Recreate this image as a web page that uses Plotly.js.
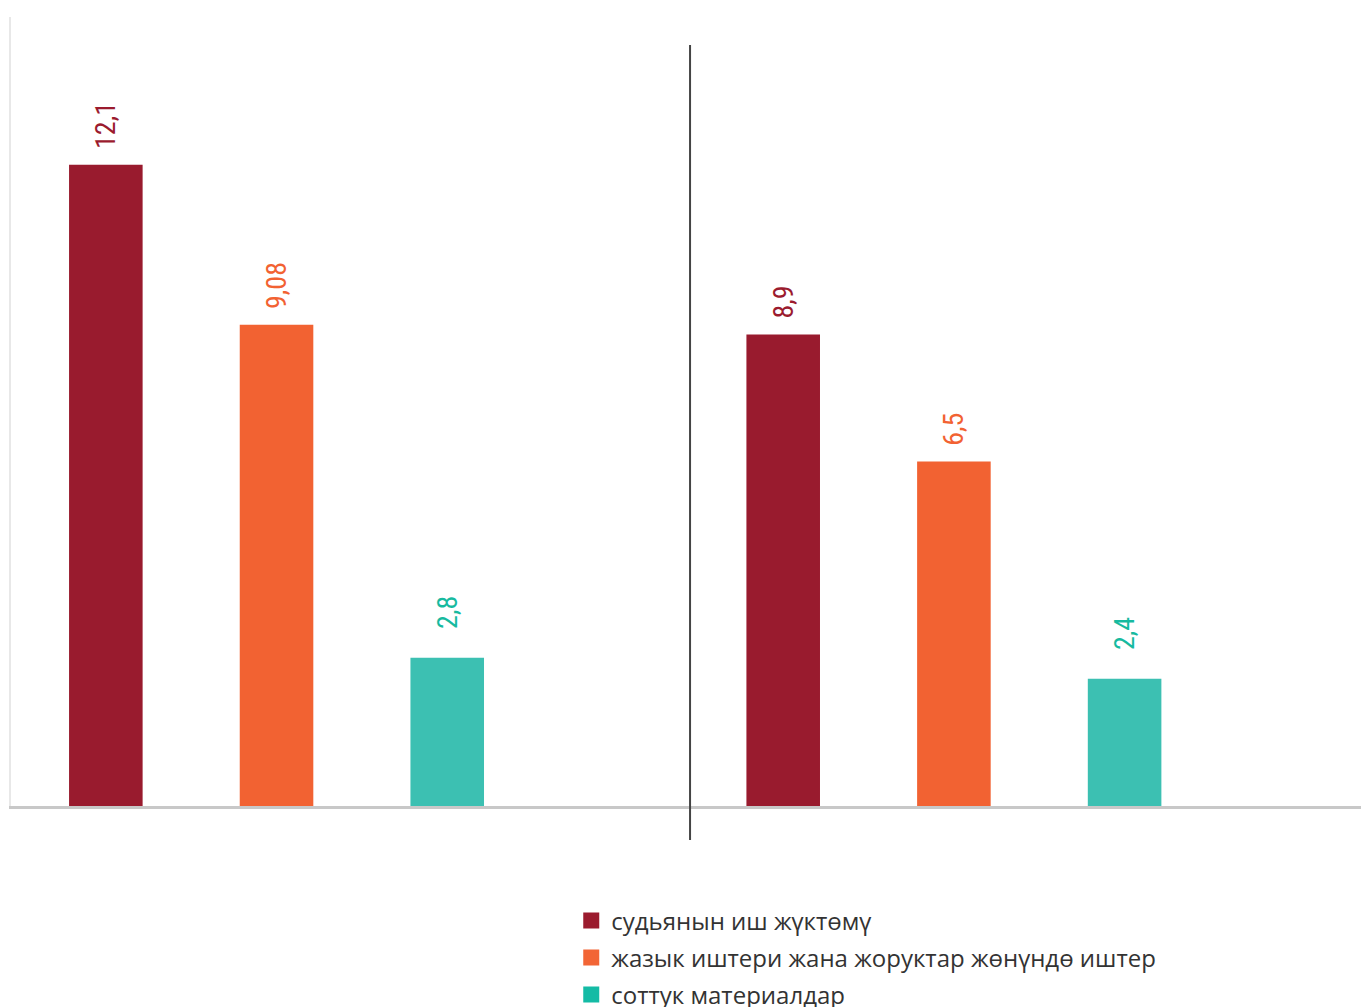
<!DOCTYPE html>
<html>
<head>
<meta charset="utf-8">
<script src="https://cdn.plot.ly/plotly-3.0.1.min.js"></script>
<style>html,body{margin:0;padding:0;background:#fff;}#chart{width:1361px;height:1007px;}</style>
</head>
<body>
<div id="chart"></div>
<script>
// Two groups (labels not shown in the reference)
const groups = ["I", "II"];
const seriesNames = [
  "судьянын иш жүктөмү",
  "жазык иштери жана жоруктар жөнүндө иштер",
  "соттук материалдар"
];
const workload = [12.1, 8.9];
const criminalCases = [9.08, 6.5];
const courtMaterials = [2.8, 2.4];

const barColors = ["#991b2e", "#f26232", "#3cc0b2"];
const legendColors = ["#9b1b2e", "#f26535", "#14bba5"];
const textColors = ["#9b1b2e", "#f26232", "#17ba9f"];
const labelPad = [2, 2, 4];
const seriesValues = [workload, criminalCases, courtMaterials];

const fmt = (v, p) => "\u00a0".repeat(p) + String(v).replace(".", ",");

const barTraces = seriesValues.map((vals, i) => ({
  type: "bar",
  name: seriesNames[i],
  x: groups,
  y: vals,
  text: vals.map(v => fmt(v, labelPad[i])),
  textposition: "outside",
  textangle: -90,
  constraintext: "none",
  cliponaxis: false,
  textfont: {family: "Roboto Condensed, Roboto, sans-serif", stretch: "condensed", size: 28, color: textColors[i]},
  marker: {color: barColors[i]},
  showlegend: false,
  hoverinfo: "skip"
}));

const legendIds = ["legend", "legend2", "legend3"];
const legendTraces = seriesNames.map((n, i) => ({
  type: "scatter",
  mode: "markers",
  name: n,
  x: [null],
  y: [null],
  marker: {symbol: "square", size: 16, color: legendColors[i]},
  legend: legendIds[i],
  hoverinfo: "skip"
}));

const legendStyle = (yPos) => ({
  x: 0.415, xanchor: "left",
  y: yPos, yanchor: "top",
  orientation: "v",
  font: {family: "Open Sans, Noto Sans, sans-serif", size: 24, color: "#333333"},
  bgcolor: "rgba(0,0,0,0)"
});

const layout = {
  width: 1361,
  height: 1007,
  margin: {l: 11, r: 0, t: 17, b: 201, pad: 0, autoexpand: false},
  paper_bgcolor: "#ffffff",
  plot_bgcolor: "#ffffff",
  barmode: "group",
  bargap: 0.244,
  bargroupgap: 0.569,
  showlegend: true,
  legend: legendStyle(-0.117),
  legend2: legendStyle(-0.1639),
  legend3: legendStyle(-0.2108),
  xaxis: {
    type: "category",
    range: [-0.392, 1.601],
    showticklabels: false,
    ticks: "",
    showgrid: false,
    zeroline: false,
    showline: true,
    linecolor: "#c8c8c8",
    linewidth: 3
  },
  yaxis: {
    range: [0, 14.89],
    showticklabels: false,
    ticks: "",
    showgrid: false,
    zeroline: false,
    showline: true,
    linecolor: "#e8e8e8",
    linewidth: 2
  },
  shapes: [{
    type: "line", xref: "paper", yref: "paper",
    x0: 0.503, x1: 0.503, y0: 0.9645, y1: -0.0431,
    line: {color: "#444444", width: 2}
  }]
};

Plotly.newPlot("chart", barTraces.concat(legendTraces), layout, {displayModeBar: false, staticPlot: true});
</script>
</body>
</html>
